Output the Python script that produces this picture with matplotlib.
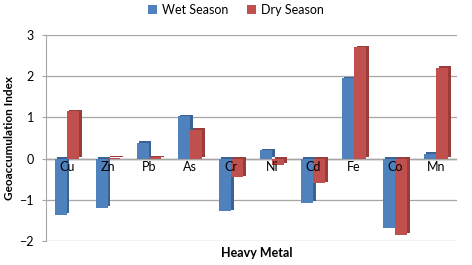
import matplotlib.pyplot as plt
import numpy as np

metals = ["Cu", "Zn", "Pb", "As", "Cr", "Ni", "Cd", "Fe", "Co", "Mn"]
wet = [-1.37, -1.2, 0.38, 1.03, -1.28, 0.2, -1.07, 1.95, -1.68, 0.12]
dry = [1.15, 0.02, 0.03, 0.7, -0.45, -0.15, -0.6, 2.7, -1.85, 2.2]

BLUE = "#4F81BD"
RED = "#C0504D"
BLUE_DARK = "#3b6294"
RED_DARK = "#9a3c39"

plt.rcParams["font.family"] = ["Lato", "DejaVu Sans"]

fig = plt.figure(figsize=(4.72, 2.65), dpi=100)
ax = fig.add_axes([0.0985, 0.0906, 0.869, 0.777])

x = np.arange(len(metals))
w = 0.3
dx = 0.06   # fake depth offset
dy = 0.04

for vals, off, c, cd, lab in [(wet, -0.15, BLUE, BLUE_DARK, "Wet Season"),
                               (dry, 0.15, RED, RED_DARK, "Dry Season")]:
    vals = np.array(vals)
    ax.bar(x + off + dx, vals, w, bottom=dy, color=cd, zorder=2)
    ax.bar(x + off, vals, w, color=c, zorder=3, label=lab)

ax.set_xlim(-0.5, 9.5)
ax.set_ylim(-2, 3)
ax.set_yticks([-2, -1, 0, 1, 2, 3])
ax.set_xticks([])
ax.grid(axis="y", color="#a6a6a6", linewidth=0.9, zorder=0)
ax.axhline(0, color="#888888", linewidth=1.0, zorder=1)
for s in ["top", "right", "bottom"]:
    ax.spines[s].set_visible(False)
ax.spines["left"].set_color("#a6a6a6")
ax.tick_params(axis="y", length=3, color="#a6a6a6", labelsize=9, pad=6)

for i, m in enumerate(metals):
    ax.text(i, -0.2, m, ha="center", va="center", fontsize=9, zorder=4)

ax.set_ylabel("Geoaccumulation Index", fontsize=8.5, fontweight="bold", labelpad=3)
fig.text(0.545, 0.045, "Heavy Metal", ha="center", va="center",
         fontsize=9, fontweight="bold")

fig.legend(loc="center", bbox_to_anchor=(0.5, 0.962), ncol=2, frameon=False,
           fontsize=9, handlelength=0.7, handleheight=0.7, columnspacing=1.5,
           handletextpad=0.4)

fig.savefig("out.png", dpi=100)
